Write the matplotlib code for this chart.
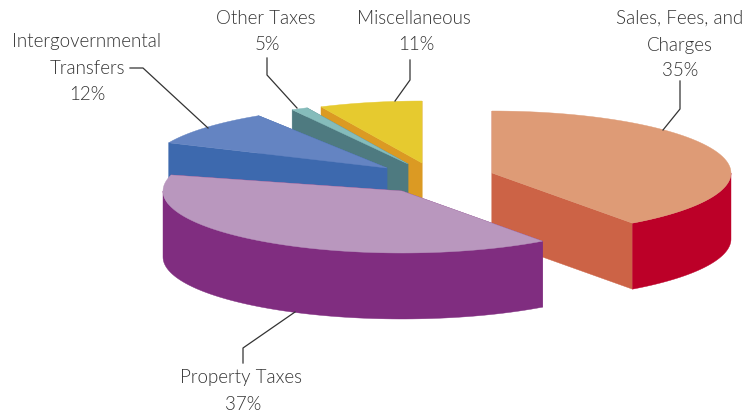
import numpy as np
import matplotlib
matplotlib.use('Agg')
import matplotlib.pyplot as plt
from matplotlib.patches import Polygon

# shares printed on the labels
categories = ['Sales, Fees, and\nCharges', 'Property Taxes', 'Intergovernmental\nTransfers',
              'Other Taxes', 'Miscellaneous']
shares = [35, 37, 12, 5, 11]

# the slices as they are drawn in the picture, degrees clockwise from north
# (the perspective of the original makes them differ from the printed shares)
drawn_start = [0, 144, 294, 331, 335]
drawn_end = [144, 285, 327.5, 335, 360]

top_colors = ['#DE9B76', '#B997BE', '#6484C2', '#85BCBB', '#E6CA2F']
cut_colors = ['#CC6346', '#802D80', '#3D69AE', '#4E7A80', '#DB9A23']
rim_colors = ['#BC0028', '#802D80', '#3D69AE', '#4E7A80', '#DB9A23']

# apex of each exploded slice, in pixels
apex_x = [492, 402, 387, 408, 422]
apex_y = [173, 191, 168, 164, 163]
RX, RY, DEPTH = 239, 62, 66


def arc(i, t0, t1, drop=0):
    t = np.radians(np.linspace(t0, t1, 80))
    return np.column_stack([apex_x[i] + RX * np.sin(t), apex_y[i] - RY * np.cos(t) + drop])


def draw_slice(ax, i):
    apex = np.array([apex_x[i], apex_y[i]])
    top_arc = arc(i, drawn_start[i], drawn_end[i])
    down = np.array([0, DEPTH])

    # flat cut faces, each going down from a straight edge of the top
    for edge in (top_arc[0], top_arc[-1]):
        ax.add_patch(Polygon([apex, edge, edge + down, apex + down],
                             facecolor=cut_colors[i], edgecolor=cut_colors[i], lw=0.3))

    # curved outer rim, only the front half of the ellipse shows
    t0 = max(drawn_start[i], 90)
    t1 = min(drawn_end[i], 270)
    if t1 > t0:
        rim = arc(i, t0, t1)
        ax.add_patch(Polygon(np.vstack([rim, rim[::-1] + down]),
                             facecolor=rim_colors[i], edgecolor=rim_colors[i], lw=0.3))

    ax.add_patch(Polygon(np.vstack([[apex], top_arc]),
                         facecolor=top_colors[i], edgecolor=top_colors[i], lw=0.3))


def add_label(ax, x, y, txt):
    ax.text(x, y + 1, txt, ha='center', va='center', fontsize=13.5, family='Lato',
            fontweight=300, color='#333333')


fig = plt.figure(figsize=(7.48, 4.15), dpi=100)
ax = fig.add_axes([0, 0, 1, 1])
ax.set_xlim(0, 748)
ax.set_ylim(415, 0)
ax.axis('off')

# back slices first, the property slice sits on top of them
for i in [4, 3, 2, 0, 1]:
    draw_slice(ax, i)

# leader lines
leaders = [
    ([680, 680, 663], [81, 109, 130]),
    ([243, 243, 295], [363, 348, 312]),
    ([130, 143, 208], [68, 68, 128]),
    ([267, 267, 297], [58, 75, 108]),
    ([410, 410, 395], [60, 80, 101]),
]
for xs, ys in leaders:
    ax.plot(xs, ys, color='#333333', lw=0.9)

sales, charges = categories[0].split('\n')
add_label(ax, 680, 17, sales)
add_label(ax, 680, 44, charges)
add_label(ax, 680, 69, f'{shares[0]}%')

add_label(ax, 241, 376, categories[1])
add_label(ax, 243, 403, f'{shares[1]}%')

inter, transfers = categories[2].split('\n')
add_label(ax, 87, 40, inter)
add_label(ax, 87, 67, transfers)
add_label(ax, 87, 93, f'{shares[2]}%')

add_label(ax, 266, 18, categories[3])
add_label(ax, 267, 44, f'{shares[3]}%')

add_label(ax, 414, 18, categories[4])
add_label(ax, 416, 44, f'{shares[4]}%')

fig.savefig('out.png', dpi=100)
